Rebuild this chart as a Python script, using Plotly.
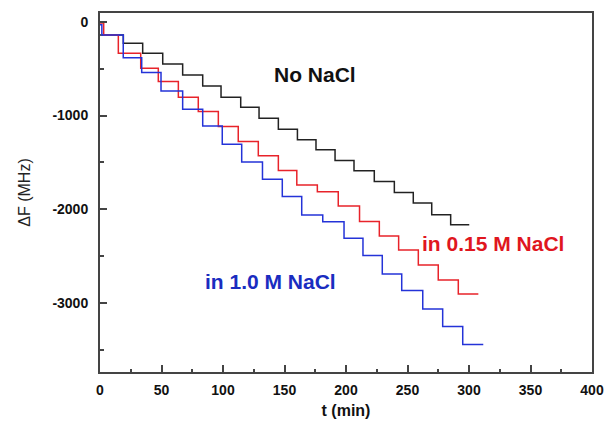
import plotly.graph_objects as go

# --- data ---
t_no_nacl = [0, 19.0, 34.7, 51.0, 67.2, 83.5, 98.4, 114.4, 129.3, 145.0, 160.5,
             175.6, 191.1, 206.5, 223.0, 239.3, 254.7, 269.7, 285.1, 300.2]
f_no_nacl = [-139, -227, -334, -448, -566, -683, -804, -910, -1028, -1145, -1259,
             -1366, -1480, -1590, -1704, -1822, -1935, -2060, -2166, -2166]

t_015 = [0, 3, 14.9, 33.1, 47.4, 63.7, 79.9, 96.2, 112.4, 128.7, 145.0, 160.0,
         176.7, 193.7, 211.0, 227.1, 242.8, 258.8, 275.0, 291.3, 307.6]
f_015 = [-10, -139, -334, -495, -637, -804, -957, -1118, -1278, -1428, -1588, -1741,
         -1813, -1966, -2133, -2286, -2436, -2596, -2756, -2906, -2906]

t_10 = [0, 1.5, 18.9, 33.9, 49.6, 67.2, 83.5, 99.4, 115.2, 132.1, 148.2, 164.0,
        181.1, 198.4, 213.8, 229.5, 245.3, 262.4, 278.6, 294.9, 311.6]
f_10 = [-30, -139, -381, -541, -737, -933, -1111, -1307, -1495, -1680, -1866, -2062,
        -2134, -2311, -2495, -2692, -2870, -3066, -3255, -3445, -3445]

x_ticks = [0, 50, 100, 150, 200, 250, 300, 350, 400]
y_ticks = [0, -1000, -2000, -3000]
y_tick_text = ["0", "-1000", "-2000", "-3000"]

labels = ["No NaCl", "in 0.15 M NaCl", "in 1.0 M NaCl"]
label_x = [174.6, 319.3, 138.5]
label_y = [-561, -2363, -2775]

FONT = "Liberation Sans, Arial, sans-serif"
BLACK = "#222222"
RED = "#e8232a"
BLUE = "#2433d8"

fig = go.Figure()
fig.add_trace(go.Scatter(x=t_no_nacl, y=f_no_nacl, mode="lines", line_shape="hv",
                         line=dict(color=BLACK, width=1.5), name=labels[0]))
fig.add_trace(go.Scatter(x=t_015, y=f_015, mode="lines", line_shape="hv",
                         line=dict(color=RED, width=1.5), name=labels[1]))
fig.add_trace(go.Scatter(x=t_10, y=f_10, mode="lines", line_shape="hv",
                         line=dict(color=BLUE, width=1.5), name=labels[2]))

fig.add_annotation(x=label_x[0], y=label_y[0], text="<b>" + labels[0] + "</b>",
                   showarrow=False, xanchor="center", yanchor="middle",
                   font=dict(family=FONT, size=21, color="#111111"))
fig.add_annotation(x=label_x[1], y=label_y[1], text="<b>" + labels[1] + "</b>",
                   showarrow=False, xanchor="center", yanchor="middle",
                   font=dict(family=FONT, size=21, color="#e0161e"))
fig.add_annotation(x=label_x[2], y=label_y[2], text="<b>" + labels[2] + "</b>",
                   showarrow=False, xanchor="center", yanchor="middle",
                   font=dict(family=FONT, size=21, color="#1a2cc0"))

axis_line = "#444444"
fig.update_layout(
    width=605, height=423,
    margin=dict(l=100, r=13, t=13, b=51),
    paper_bgcolor="white", plot_bgcolor="white",
    showlegend=False,
    font=dict(family=FONT, color="#111111"),
)
fig.update_xaxes(
    range=[0, 400], tickmode="array", tickvals=x_ticks,
    ticktext=["<b>%d</b>" % v for v in x_ticks],
    ticks="inside", ticklen=7, tickwidth=1.5, tickcolor=axis_line,
    minor=dict(tickmode="linear", tick0=0, dtick=25, ticks="inside", ticklen=3,
               tickwidth=1.5, tickcolor=axis_line),
    showline=True, linecolor=axis_line, linewidth=2, mirror=True,
    showgrid=False, zeroline=False, automargin=False,
    tickfont=dict(family=FONT, size=14, color="#111111"),
    ticklabelstandoff=4,
    title=dict(text="<b>t (min)</b>", font=dict(family=FONT, size=16, color="#111111"),
               standoff=8),
)
fig.update_yaxes(
    range=[-3740, 96], tickmode="array", tickvals=y_ticks,
    ticktext=["<b>%s</b>" % s for s in y_tick_text],
    ticks="inside", ticklen=7, tickwidth=1.5, tickcolor=axis_line,
    minor=dict(tickmode="linear", tick0=0, dtick=500, ticks="inside", ticklen=4,
               tickwidth=1.5, tickcolor=axis_line),
    showline=True, linecolor=axis_line, linewidth=2, mirror=True,
    showgrid=False, zeroline=False, automargin=False,
    tickfont=dict(family=FONT, size=14, color="#111111"),
    ticklabelstandoff=7,
    title=dict(text="ΔF (MHz)", font=dict(family=FONT, size=16, color="#222222"),
               standoff=18),
)

fig.write_html("out.html", config={"displayModeBar": False},
               post_script="document.body.style.margin='0';")
